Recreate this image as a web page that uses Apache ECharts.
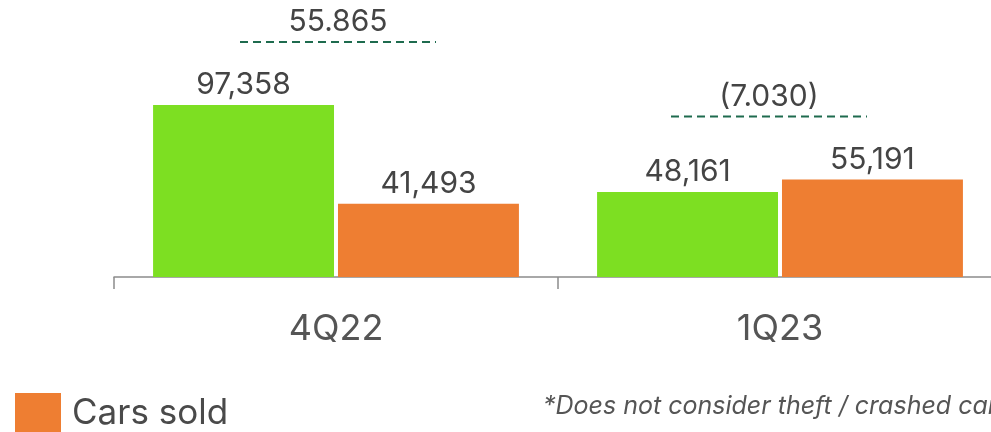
<!DOCTYPE html>
<html>
<head>
<meta charset="utf-8">
<script src="https://cdn.jsdelivr.net/npm/echarts@6/dist/echarts.min.js"></script>
<style>
html,body{margin:0;padding:0;background:#fff;}
#chart{width:991px;height:432px;}
</style>
</head>
<body>
<div id="chart"></div>
<script>
// ---- data ----
var categories = ['4Q22', '1Q23'];
var carsBought = [97358, 48161];
var carsSold = [41493, 55191];
var footnote = '*Does not consider theft / crashed cars';

// ---- helpers ----
function fmtComma(v){ return String(v).replace(/\B(?=(\d{3})+(?!\d))/g, ','); }
function fmtDiff(v){
  var s = String(Math.abs(v)).replace(/\B(?=(\d{3})+(?!\d))/g, '.');
  return v < 0 ? '(' + s + ')' : s;
}
var annData = categories.map(function(c, i){
  return [i, Math.max(carsBought[i], carsSold[i]), fmtDiff(carsBought[i] - carsSold[i])];
});
var annDx = [2, -11];

var FONT = 'Inter';
var chart = echarts.init(document.getElementById('chart'));
chart.setOption({
  animation: false,
  textStyle: { fontFamily: FONT },
  grid: { left: 114, width: 888, top: 12, height: 265, outerBoundsMode: 'none', containLabel: false },
  legend: {
    data: ['Cars sold'],
    left: 15, top: 393, padding: 0,
    icon: 'rect', itemWidth: 46, itemHeight: 40,
    textStyle: { fontFamily: FONT, fontSize: 35, color: '#4a4a4a', padding: [0,0,0,6] }
  },
  xAxis: {
    type: 'category',
    data: categories,
    axisLine: { lineStyle: { color: '#8c8c8c', width: 1.5 } },
    axisTick: { show: true, length: 12, interval: 0, lineStyle: { color: '#8c8c8c', width: 1.5 } },
    axisLabel: { fontFamily: FONT, fontSize: 36, color: '#555', margin: 34 }
  },
  yAxis: { type: 'value', min: 0, max: 150000, show: false, splitLine: { show: false } },
  series: [
    {
      name: 'Cars bought', type: 'bar', data: carsBought,
      barCategoryGap: '17.6%', barGap: '2.2%',
      itemStyle: { color: '#7ddf22' },
      label: { show: true, position: 'top', distance: 5, fontFamily: FONT, fontSize: 30, color: '#444',
        formatter: function(p){ return fmtComma(p.value); } }
    },
    {
      name: 'Cars sold', type: 'bar', data: carsSold,
      barCategoryGap: '17.6%', barGap: '2.2%',
      itemStyle: { color: '#ee7e32' },
      label: { show: true, position: 'top', distance: 5, fontFamily: FONT, fontSize: 30, color: '#444',
        formatter: function(p){ return fmtComma(p.value); } }
    },
    {
      name: 'diff', type: 'custom', data: annData, clip: false, silent: true,
      renderItem: function(params, api){
        var i = api.value(0);
        var pt = api.coord([i, api.value(1)]);
        var cx = pt[0] + annDx[params.dataIndex];
        var ly = pt[1] - 63;
        return {
          type: 'group',
          children: [
            { type: 'line', shape: { x1: cx - 98, y1: ly, x2: cx + 98, y2: ly },
              style: { stroke: '#1e6b4e', lineWidth: 2, lineDash: [8, 5] } },
            { type: 'text', x: cx, y: ly - 20,
              style: { text: annData[params.dataIndex][2], fontFamily: FONT, fontSize: 30, fill: '#444',
                textAlign: 'center', textVerticalAlign: 'middle' } }
          ]
        };
      }
    }
  ],
  graphic: [
    { type: 'text', left: 543, top: 394,
      style: { text: footnote, fontFamily: FONT, fontSize: 25, fontStyle: 'italic', fill: '#555' } }
  ]
});
</script>
</body>
</html>
